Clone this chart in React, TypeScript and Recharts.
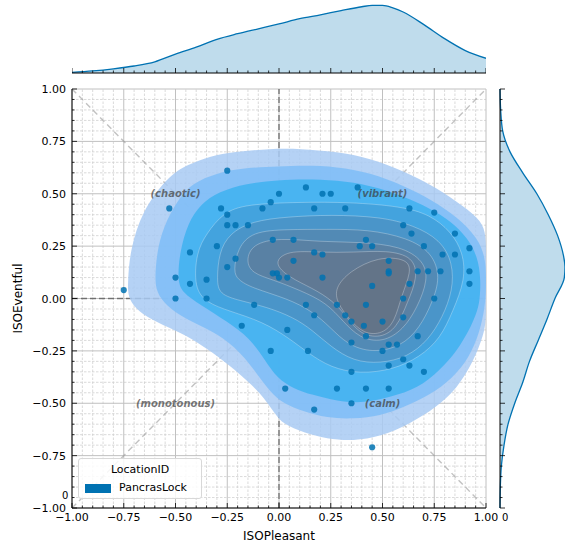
import React from 'react';
import {
  ScatterChart,
  Scatter,
  XAxis,
  YAxis,
  ReferenceLine,
  ReferenceDot,
  AreaChart,
  Area,
} from 'recharts';

const BLUE = '#0072B2';
const FONT = '"DejaVu Sans", sans-serif';

// survey responses (PancrasLock)
const isoPleasant = [
  -0.75, -0.53, -0.25, -0.28, -0.25, -0.25, -0.21, -0.15, -0.08, -0.04, 0.0, 0.13, 0.21, 0.25, 0.38, 0.17,
  0.32, 0.63, 0.75, 0.6, 0.64, 0.85, 0.92, 0.7, 0.79, 0.85, -0.03, 0.07, 0.39, 0.42, 0.45, 0.17, 0.21, 0.07,
  0.53, 0.53, 0.53, 0.67, 0.72, 0.78, 0.92, 0.92, 0.63, 0.45, 0.21, 0.04, 0.0, -0.01, -0.03, -0.3, -0.21,
  -0.25, -0.43, -0.43, -0.35, -0.5, -0.5, -0.35, -0.12, -0.18, 0.04, -0.04, 0.03, 0.17, 0.35, 0.45, 0.75,
  0.6, 0.13, 0.28, 0.42, 0.17, 0.32, 0.35, 0.5, 0.6, 0.41, 0.42, 0.67, 0.35, 0.53, 0.57, 0.5, 0.14, 0.6,
  0.53, 0.63, 0.35, 0.7, 0.28, 0.42, 0.53,
];
const isoEventful = [
  0.04, 0.43, 0.61, 0.43, 0.4, 0.35, 0.35, 0.35, 0.43, 0.46, 0.5, 0.53, 0.5, 0.5, 0.53, 0.43,
  0.43, 0.43, 0.41, 0.35, 0.31, 0.31, 0.24, 0.25, 0.21, 0.21, 0.28, 0.28, 0.25, 0.28, 0.25, 0.22, 0.21, 0.18,
  0.18, 0.13, 0.12, 0.13, 0.13, 0.13, 0.13, 0.07, 0.07, 0.06, 0.1, 0.1, 0.1, 0.12, 0.12, 0.25, 0.19,
  0.15, 0.22, 0.07, 0.09, 0.1, 0.0, 0.0, -0.03, -0.13, -0.15, -0.25, -0.43, -0.53, -0.5, -0.71, 0.0,
  0.0, -0.03, -0.03, -0.03, -0.08, -0.08, -0.11, -0.11, -0.09, -0.13, -0.18, -0.18, -0.21, -0.22, -0.22, -0.25, -0.25, -0.29,
  -0.32, -0.32, -0.35, -0.35, -0.43, -0.43, -0.43,
];

// density contour outlines, outermost first: [ISOPleasant, ISOEventful]
const contourLevel1 = [
  [-0.73, 0.08], [-0.72, 0.23], [-0.66, 0.42], [-0.54, 0.58], [-0.44, 0.64], [-0.33, 0.68], [-0.22, 0.7],
  [-0.04, 0.715], [0.1, 0.715], [0.28, 0.7], [0.44, 0.67], [0.6, 0.61], [0.76, 0.53], [0.89, 0.44], [0.98, 0.37],
  [1.0, 0.3], [1.0, 0.2], [1.0, 0.1], [1.0, 0.0], [1.0, -0.1], [0.99, -0.17], [0.94, -0.3], [0.86, -0.43],
  [0.76, -0.52], [0.63, -0.6], [0.49, -0.66], [0.36, -0.68], [0.23, -0.67], [0.12, -0.64], [0.02, -0.6],
  [-0.02, -0.55], [-0.09, -0.45], [-0.19, -0.36], [-0.29, -0.28], [-0.42, -0.19], [-0.53, -0.14],
  [-0.64, -0.09], [-0.71, -0.03], [-0.73, 0.02],
];
const contourLevel2 = [
  [-0.6, 0.09], [-0.59, 0.22], [-0.56, 0.34], [-0.49, 0.47], [-0.42, 0.55], [-0.3, 0.6], [-0.16, 0.625],
  [0.0, 0.63], [0.12, 0.635], [0.28, 0.63], [0.44, 0.6], [0.6, 0.54], [0.74, 0.47], [0.86, 0.39], [0.96, 0.29],
  [0.995, 0.2], [1.0, 0.12], [1.0, 0.04], [0.995, -0.04], [0.97, -0.16], [0.92, -0.28], [0.84, -0.38],
  [0.73, -0.46], [0.6, -0.52], [0.49, -0.56], [0.36, -0.575], [0.23, -0.57], [0.12, -0.54], [0.02, -0.5],
  [-0.04, -0.45], [-0.12, -0.34], [-0.21, -0.23], [-0.33, -0.15], [-0.45, -0.1], [-0.55, -0.03], [-0.59, 0.03],
];
const contourLevel3 = [
  [-0.49, 0.09], [-0.48, 0.22], [-0.44, 0.36], [-0.38, 0.45], [-0.29, 0.51], [-0.16, 0.55], [0.0, 0.565],
  [0.12, 0.57], [0.28, 0.565], [0.44, 0.54], [0.6, 0.49], [0.73, 0.43], [0.83, 0.37], [0.91, 0.29], [0.96, 0.2],
  [0.975, 0.09], [0.97, -0.01], [0.955, -0.07], [0.92, -0.15], [0.86, -0.25], [0.78, -0.34], [0.67, -0.43],
  [0.54, -0.47], [0.41, -0.5], [0.28, -0.49], [0.16, -0.46], [0.07, -0.43], [-0.01, -0.38], [-0.07, -0.29],
  [-0.14, -0.19], [-0.25, -0.11], [-0.38, -0.03], [-0.47, 0.03],
];
const contourLevel4 = [
  [-0.41, 0.05], [-0.4, 0.22], [-0.35, 0.31], [-0.27, 0.41], [-0.16, 0.45], [0.1, 0.46], [0.34, 0.46],
  [0.59, 0.44], [0.73, 0.4], [0.83, 0.32], [0.89, 0.22], [0.9, 0.09], [0.84, -0.06], [0.78, -0.19],
  [0.68, -0.28], [0.55, -0.34], [0.39, -0.36], [0.25, -0.33], [0.14, -0.26], [0.05, -0.19], [-0.08, -0.11],
  [-0.24, -0.06], [-0.35, -0.02],
];
const contourLevel5 = [
  [-0.3, 0.09], [-0.29, 0.22], [-0.24, 0.31], [-0.13, 0.37], [0.04, 0.39], [0.25, 0.4], [0.49, 0.39],
  [0.65, 0.35], [0.78, 0.28], [0.84, 0.17], [0.84, 0.04], [0.79, -0.09], [0.72, -0.2], [0.62, -0.28],
  [0.49, -0.31], [0.36, -0.3], [0.25, -0.23], [0.16, -0.15], [0.07, -0.09], [-0.06, -0.04], [-0.19, -0.01],
  [-0.29, 0.02],
];
const contourLevel6 = [
  [-0.22, 0.13], [-0.2, 0.24], [-0.13, 0.32], [0.04, 0.33], [0.23, 0.33], [0.43, 0.33], [0.62, 0.29],
  [0.74, 0.22], [0.78, 0.1], [0.74, -0.02], [0.68, -0.14], [0.59, -0.23], [0.45, -0.26], [0.33, -0.22],
  [0.25, -0.14], [0.16, -0.06], [0.04, 0.0], [-0.13, 0.05], [-0.2, 0.09],
];
const contourLevel7 = [
  [-0.16, 0.18], [-0.13, 0.26], [0.0, 0.29], [0.2, 0.27], [0.39, 0.27], [0.59, 0.25], [0.7, 0.18],
  [0.72, 0.09], [0.67, -0.04], [0.6, -0.15], [0.5, -0.21], [0.39, -0.19], [0.31, -0.11], [0.23, -0.02],
  [0.1, 0.04], [-0.03, 0.09], [-0.13, 0.12],
];
const contourLevel8 = [
  [-0.03, 0.17], [0.04, 0.23], [0.2, 0.22], [0.36, 0.22], [0.52, 0.23], [0.65, 0.2], [0.67, 0.1],
  [0.62, -0.02], [0.57, -0.14], [0.49, -0.19], [0.39, -0.17], [0.33, -0.09], [0.26, -0.01], [0.16, 0.05],
  [0.05, 0.1],
];
const contourLevel9 = [
  [0.27, 0.05], [0.34, 0.13], [0.48, 0.2], [0.62, 0.19], [0.64, 0.13], [0.59, 0.01], [0.56, -0.11],
  [0.5, -0.17], [0.41, -0.17], [0.34, -0.1], [0.28, -0.02],
];
const contourLevels = [
  contourLevel1, contourLevel2, contourLevel3, contourLevel4, contourLevel5,
  contourLevel6, contourLevel7, contourLevel8, contourLevel9,
];
const levelColors = [
  '#a8caf3', '#7ebdf7', '#3eb2f0', '#42a0da', '#4b93c6', '#5488b2', '#5b7fa1', '#617892', '#647386',
];

// marginal densities
const pleasantGrid = [-1, -0.9, -0.8, -0.7, -0.6, -0.5, -0.4, -0.3, -0.2, -0.1, 0, 0.1, 0.2, 0.3, 0.4, 0.45, 0.5, 0.55, 0.6, 0.7, 0.8, 0.9, 1];
const pleasantDensity = [0.01, 0.03, 0.06, 0.1, 0.16, 0.27, 0.37, 0.48, 0.56, 0.63, 0.7, 0.775, 0.83, 0.89, 0.945, 0.965, 0.965, 0.93, 0.87, 0.69, 0.49, 0.32, 0.21];
const eventfulGrid = [1, 0.9, 0.8, 0.7, 0.6, 0.5, 0.4, 0.3, 0.2, 0.15, 0.1, 0, -0.1, -0.2, -0.3, -0.4, -0.5, -0.6, -0.7, -0.8, -0.9, -1];
const eventfulDensity = [0, 0.01, 0.04, 0.15, 0.34, 0.55, 0.72, 0.86, 0.95, 0.97, 0.96, 0.82, 0.7, 0.57, 0.44, 0.34, 0.22, 0.12, 0.06, 0.02, 0.005, 0];

const majorTicks = [-1, -0.75, -0.5, -0.25, 0, 0.25, 0.5, 0.75, 1];
const minorTicks = Array.from({ length: 41 }, (_, i) => Math.round((-1 + i * 0.05) * 100) / 100);

const quadrantLabels = ['(chaotic)', '(vibrant)', '(monotonous)', '(calm)'];
const quadrantX = [-0.5, 0.5, -0.5, 0.5];
const quadrantY = [0.5, 0.5, -0.5, -0.5];

const points = isoPleasant.map((x, i) => ({ x, y: isoEventful[i] }));
const pleasantData = pleasantGrid.map((x, i) => ({ x, d: pleasantDensity[i] }));
const eventfulData = eventfulGrid.map((y, i) => ({ y, d: eventfulDensity[i] }));

const isMajor = (v: number) => Math.abs(v * 4 - Math.round(v * 4)) < 1e-6;
const fmt = (v: number) => v.toFixed(2).replace('-', '\u2212');

const BottomTick = ({ x, y, payload, labels }: any) => {
  const major = isMajor(payload.value);
  return (
    <g>
      <line x1={x} x2={x} y1={y} y2={y - (major ? 5 : 2.5)} stroke="#000" strokeWidth={0.8} />
      {labels && major && (
        <text x={x} y={y + 13} textAnchor="middle" fontSize={11} fontFamily={FONT} fill="#000">
          {fmt(payload.value)}
        </text>
      )}
    </g>
  );
};

const LeftTick = ({ x, y, payload, labels }: any) => {
  const major = isMajor(payload.value);
  return (
    <g>
      <line x1={x} x2={x + (major ? 5 : 2.5)} y1={y} y2={y} stroke="#000" strokeWidth={0.8} />
      {labels && major && (
        <text x={x - 6} y={y + 4} textAnchor="end" fontSize={11} fontFamily={FONT} fill="#000">
          {fmt(payload.value)}
        </text>
      )}
    </g>
  );
};

const XTitle = (props: any) => {
  const vb = props.viewBox || { x: 72, y: 428, width: 414 };
  return (
    <text x={vb.x + vb.width / 2} y={vb.y + 32} textAnchor="middle" fontSize={12} fontFamily={FONT} fill="#000">
      ISOPleasant
    </text>
  );
};

const YTitle = (props: any) => {
  const vb = props.viewBox || { y: 9, height: 419 };
  const cy = vb.y + vb.height / 2;
  return (
    <text transform={`translate(22, ${cy}) rotate(-90)`} textAnchor="middle" fontSize={12} fontFamily={FONT} fill="#000">
      ISOEventful
    </text>
  );
};

const hiddenShape = () => <g />;

export default function App() {
  return (
    <div style={{ position: 'absolute', left: 0, top: 0, width: 565, height: 547, background: '#fff', fontFamily: FONT }}>
      {/* top marginal */}
      <div style={{ position: 'absolute', left: 72, top: 0 }}>
        <AreaChart width={414} height={74} data={pleasantData} margin={{ top: 5, right: 0, bottom: 0, left: 0 }}>
          <XAxis
            dataKey="x"
            type="number"
            domain={[-1, 1]}
            ticks={minorTicks}
            interval={0}
            height={1}
            tickSize={0}
            tickMargin={0}
            tickLine={false}
            axisLine={{ stroke: '#000' }}
            tick={<BottomTick labels={false} />}
          />
          <YAxis hide domain={[0, 0.97]} />
          <Area
            type="monotone"
            dataKey="d"
            stroke={BLUE}
            strokeWidth={1.3}
            fill={BLUE}
            fillOpacity={0.25}
            isAnimationActive={false}
            dot={false}
            activeDot={false}
          />
        </AreaChart>
      </div>

      {/* right marginal */}
      <div style={{ position: 'absolute', left: 499, top: 80 }}>
        <AreaChart
          width={66}
          height={467}
          layout="vertical"
          data={eventfulData}
          margin={{ top: 9, right: 0, bottom: 39, left: 0 }}
        >
          <XAxis type="number" hide domain={[0, 0.97]} />
          <YAxis
            dataKey="y"
            type="number"
            domain={[-1, 1]}
            reversed
            ticks={minorTicks}
            interval={0}
            width={1}
            tickSize={0}
            tickMargin={0}
            tickLine={false}
            axisLine={{ stroke: '#000' }}
            tick={<LeftTick labels={false} />}
          />
          <Area
            type="monotone"
            dataKey="d"
            stroke={BLUE}
            strokeWidth={1.3}
            fill={BLUE}
            fillOpacity={0.25}
            isAnimationActive={false}
            dot={false}
            activeDot={false}
          />
        </AreaChart>
      </div>

      {/* joint plot */}
      <div style={{ position: 'absolute', left: 0, top: 80 }}>
        <ScatterChart width={500} height={467} margin={{ top: 9, right: 14, bottom: 0, left: 0 }}>
          <XAxis
            dataKey="x"
            type="number"
            domain={[-1, 1]}
            ticks={minorTicks}
            interval={0}
            height={39}
            tickSize={0}
            tickMargin={0}
            tickLine={false}
            axisLine={{ stroke: '#000' }}
            tick={<BottomTick labels />}
            label={<XTitle />}
          />
          <YAxis
            dataKey="y"
            type="number"
            domain={[-1, 1]}
            ticks={minorTicks}
            interval={0}
            width={72}
            tickSize={0}
            tickMargin={0}
            tickLine={false}
            axisLine={{ stroke: '#000' }}
            tick={<LeftTick labels />}
            label={<YTitle />}
          />

          {minorTicks.filter((v) => !isMajor(v)).map((v) => (
            <ReferenceLine key={`mx${v}`} x={v} stroke="#d0d0d0" strokeWidth={0.8} strokeDasharray="2.5 1.5" />
          ))}
          {minorTicks.filter((v) => !isMajor(v)).map((v) => (
            <ReferenceLine key={`my${v}`} y={v} stroke="#d0d0d0" strokeWidth={0.8} strokeDasharray="2.5 1.5" />
          ))}
          {majorTicks.map((v) => (
            <ReferenceLine key={`Mx${v}`} x={v} stroke="#c0c0c0" strokeWidth={1} />
          ))}
          {majorTicks.map((v) => (
            <ReferenceLine key={`My${v}`} y={v} stroke="#c0c0c0" strokeWidth={1} />
          ))}

          {contourLevels.map((level, i) => (
            <Scatter
              key={`level${i}`}
              data={level.map(([x, y]) => ({ x, y }))}
              shape={hiddenShape}
              line={{
                fill: levelColors[i],
                fillOpacity: 0.85,
                stroke: i > 2 ? 'rgba(255,255,255,0.4)' : 'none',
                strokeWidth: 0.7,
              }}
              lineType="joint"
              lineJointType="basisClosed"
              isAnimationActive={false}
            />
          ))}

          <Scatter
            data={points}
            fill={BLUE}
            shape={(p: any) => <circle cx={p.cx} cy={p.cy} r={3.1} fill={BLUE} fillOpacity={0.85} />}
            isAnimationActive={false}
          />

          <ReferenceLine x={0} stroke="#555" strokeOpacity={0.75} strokeWidth={1.4} strokeDasharray="6 3" />
          <ReferenceLine y={0} stroke="#555" strokeOpacity={0.75} strokeWidth={1.4} strokeDasharray="6 3" />
          <ReferenceLine
            segment={[{ x: -1, y: -1 }, { x: 1, y: 1 }]}
            stroke="#999"
            strokeOpacity={0.6}
            strokeWidth={1.4}
            strokeDasharray="6 4"
          />
          <ReferenceLine
            segment={[{ x: -1, y: 1 }, { x: 1, y: -1 }]}
            stroke="#999"
            strokeOpacity={0.6}
            strokeWidth={1.4}
            strokeDasharray="6 4"
          />

          {quadrantLabels.map((text, i) => (
            <ReferenceDot
              key={text}
              x={quadrantX[i]}
              y={quadrantY[i]}
              r={0}
              fill="none"
              stroke="none"
              label={{
                value: text,
                position: 'center',
                fill: '#3c3c3c',
                fillOpacity: 0.7,
                fontSize: 10,
                fontStyle: 'italic',
                fontWeight: 'bold',
                fontFamily: FONT,
              }}
            />
          ))}
        </ScatterChart>
      </div>

      {/* legend */}
      <div
        style={{
          position: 'absolute',
          left: 78,
          top: 458,
          width: 124,
          height: 41,
          boxSizing: 'border-box',
          border: '1px solid #d8d8d8',
          borderRadius: 3,
          background: 'rgba(255,255,255,0.85)',
          fontSize: 11,
          color: '#000',
        }}
      >
        <div style={{ position: 'absolute', left: 0, right: 0, top: 4, textAlign: 'center' }}>LocationID</div>
        <div style={{ position: 'absolute', left: 6, top: 25, width: 26, height: 9, background: BLUE }} />
        <div style={{ position: 'absolute', left: 40, top: 22 }}>PancrasLock</div>
      </div>

      <div style={{ position: 'absolute', left: 62, top: 490, fontSize: 10, lineHeight: '11px' }}>0</div>
      <div style={{ position: 'absolute', left: 502, top: 512, fontSize: 10, lineHeight: '11px' }}>0</div>
    </div>
  );
}
